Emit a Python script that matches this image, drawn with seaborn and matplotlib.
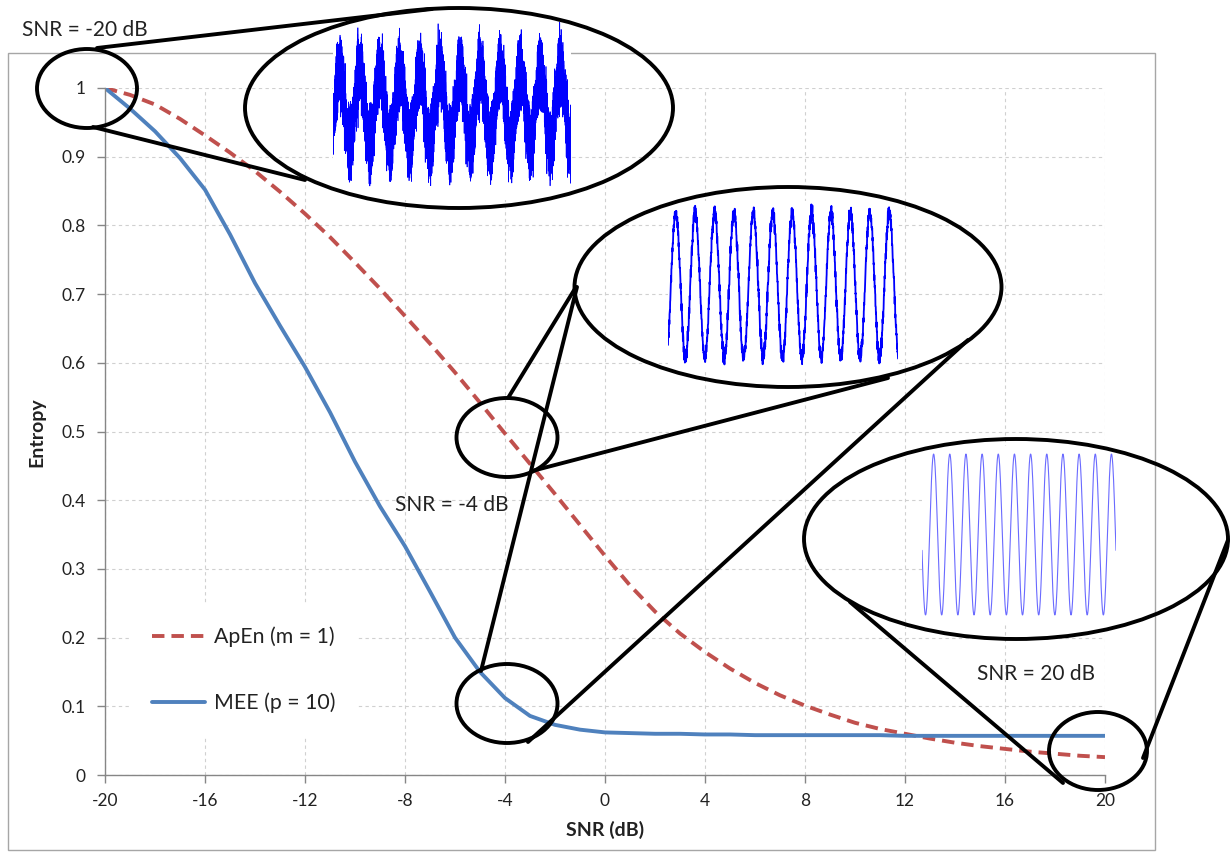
"""Entropy vs SNR: ApEn and MEE curves with zoomed waveform insets."""
import matplotlib
matplotlib.use("Agg")
import matplotlib.pyplot as plt
from matplotlib.patches import Ellipse, Rectangle
import numpy as np
import pandas as pd
import seaborn as sns

# ─── Data ─────────────────────────────────────────────────────────────────────
snr_db = list(range(-20, 21))
apen = [1.000, 0.990, 0.976, 0.955, 0.931, 0.906, 0.879, 0.849, 0.817, 0.783,
        0.746, 0.708, 0.668, 0.628, 0.586, 0.542, 0.497, 0.453, 0.409, 0.364,
        0.319, 0.276, 0.238, 0.206, 0.179, 0.155, 0.134, 0.116, 0.101, 0.088,
        0.076, 0.067, 0.060, 0.053, 0.047, 0.042, 0.038, 0.034, 0.031, 0.028,
        0.026]
mee = [1.000, 0.970, 0.937, 0.898, 0.852, 0.787, 0.716, 0.654, 0.594, 0.528,
       0.456, 0.391, 0.333, 0.267, 0.200, 0.150, 0.112, 0.086, 0.073, 0.066,
       0.062, 0.061, 0.060, 0.060, 0.059, 0.059, 0.058, 0.058, 0.058, 0.058,
       0.058, 0.058, 0.057, 0.057, 0.057, 0.057, 0.057, 0.057, 0.057, 0.057,
       0.057]
series_labels = ["ApEn (m = 1)", "MEE (p = 10)"]
x_ticks = list(range(-20, 21, 4))
y_ticks = [i / 10 for i in range(11)]
snr_notes = ["SNR = -20 dB", "SNR = -4 dB", "SNR = 20 dB"]

# ─── Layout (pixels of the 1231x852 picture, y from top) ──────────────────────
W, H = 1231, 852
RED, BLUE = "#C0504D", "#4F81BD"
TXT = "#222222"


def fx(px):
    return px / W


def fy(py):
    return 1 - py / H


sns.set_theme(style="white")
plt.rcParams["font.family"] = ["Lato", "DejaVu Sans"]
plt.rcParams["axes.unicode_minus"] = False

fig = plt.figure(figsize=(W / 100, H / 100), dpi=100)
fig.patch.set_facecolor("white")

# chart-area border (drawn under everything)
fig.add_artist(Rectangle((fx(8), fy(850)), (1155 - 8) / W, (850 - 53) / H,
                         transform=fig.transFigure, fill=False,
                         edgecolor="#A6A6A6", lw=1.0, zorder=-1))

# ─── Main axes ────────────────────────────────────────────────────────────────
ax = fig.add_axes([fx(105), fy(775), (1105 - 105) / W, (775 - 88) / H])
df = pd.DataFrame({"snr": snr_db, "apen": apen, "mee": mee})
sns.lineplot(data=df, x="snr", y="apen", ax=ax, color=RED, lw=2.8,
             linestyle=(0, (3.2, 1.8)), label=series_labels[0])
sns.lineplot(data=df, x="snr", y="mee", ax=ax, color=BLUE, lw=2.8,
             label=series_labels[1])

ax.set_xlim(-20, 20)
ax.set_ylim(0, 1)
ax.set_xticks(x_ticks)
ax.set_yticks(y_ticks)
ax.set_yticklabels([f"{v:g}" for v in y_ticks])
ax.set_xlabel("")
ax.set_ylabel("")
ax.grid(True, color="#D0D0D0", lw=0.8, linestyle=(0, (3, 3)))
for side in ("top", "right"):
    ax.spines[side].set_visible(False)
for side in ("left", "bottom"):
    ax.spines[side].set_color("#868686")
    ax.spines[side].set_linewidth(1.0)
ax.tick_params(axis="both", direction="out", length=6, width=1,
               color="#868686", labelsize=12.5, labelcolor=TXT,
               left=True, bottom=True)
ax.tick_params(axis="y", pad=8)
ax.tick_params(axis="x", pad=7)

leg = ax.legend(loc="center left", bbox_to_anchor=(fx(131), fy(670)),
                bbox_transform=fig.transFigure, frameon=True, fancybox=False,
                facecolor="white", edgecolor="white", framealpha=1,
                fontsize=15.3, handlelength=2.5, handletextpad=0.42,
                labelspacing=2.15, borderpad=1.0, borderaxespad=0)
for t in leg.get_texts():
    t.set_color(TXT)

fig.text(fx(37), fy(432), "Entropy", rotation=90, ha="center", va="center",
         fontsize=14, fontweight="bold", color=TXT)
fig.text(fx(605), fy(830), "SNR (dB)", ha="center", va="center",
         fontsize=14, fontweight="bold", color=TXT)


# ─── Waveform insets (illustrative sine + noise pictures) ─────────────────────
def noise_like(n, terms=64):
    idx = np.arange(n)
    out = np.zeros(n)
    for k in range(1, terms + 1):
        f = ((0.6180339887 * k) % 1) * 0.48 + 0.015
        out += np.sin(2 * np.pi * f * idx + 2.39996 * k * k)
    return out / np.sqrt(terms / 2)


def add_wave(box, cycles, phase, noise, ylim, color, lw, n):
    x0, y0, x1, y1 = box
    iax = fig.add_axes([fx(x0), fy(y1), (x1 - x0) / W, (y1 - y0) / H])
    t = np.linspace(0, cycles, n)
    sig = np.sin(2 * np.pi * t + phase) + noise * noise_like(n)
    iax.plot(t, sig, color=color, lw=lw)
    iax.set_xlim(0, cycles)
    iax.set_ylim(*ylim)
    iax.set_xticks([])
    iax.set_yticks([])
    for s in iax.spines.values():
        s.set_visible(False)
    iax.set_facecolor("white")
    return iax


add_wave((333, 15, 571, 200), 11.85, -0.5, 0.5, (-2.5, 2.5), "#0000FF", 0.5, 9000)
add_wave((668, 201, 898, 369), 11.85, -0.93, 0.05, (-1.16, 1.16), "#0000FF", 1.3, 1500)
add_wave((922, 446, 1116, 623), 12.0, 3.34, 0.0, (-1.1, 1.1), "#6A6AFF", 0.8, 800)

# ─── Magnifier ellipses, connectors, notes ────────────────────────────────────
ov = fig.add_axes([0, 0, 1, 1])
ov.set_xlim(0, W)
ov.set_ylim(H, 0)
ov.axis("off")

ellipses = [(87, 88.5, 100, 79), (507, 437.5, 101, 79), (507, 703.5, 101, 79),
            (1098, 751, 98, 78), (459, 108, 428, 200), (788, 287, 427, 200),
            (1016, 539, 424, 200)]
for cx, cy, w, h in ellipses:
    ov.add_patch(Ellipse((cx, cy), w, h, fill=False, edgecolor="black", lw=2.8))

connectors = [((97, 48), (432, 9)), ((93, 127), (305, 180)),
              ((508, 398), (576, 287)), ((532, 471), (888, 378)),
              ((481, 671), (577, 287)), ((528, 742), (968, 340)),
              ((1063, 783), (850, 602)), ((1143, 758), (1228, 540))]
for (xa, ya), (xb, yb) in connectors:
    ov.plot([xa, xb], [ya, yb], color="black", lw=2.8, solid_capstyle="round")

for (px, py), note in zip([(22, 30), (395, 505), (977, 674)], snr_notes):
    ov.text(px, py, note, ha="left", va="center", fontsize=15, color=TXT)

fig.savefig("out.png", dpi=100)
